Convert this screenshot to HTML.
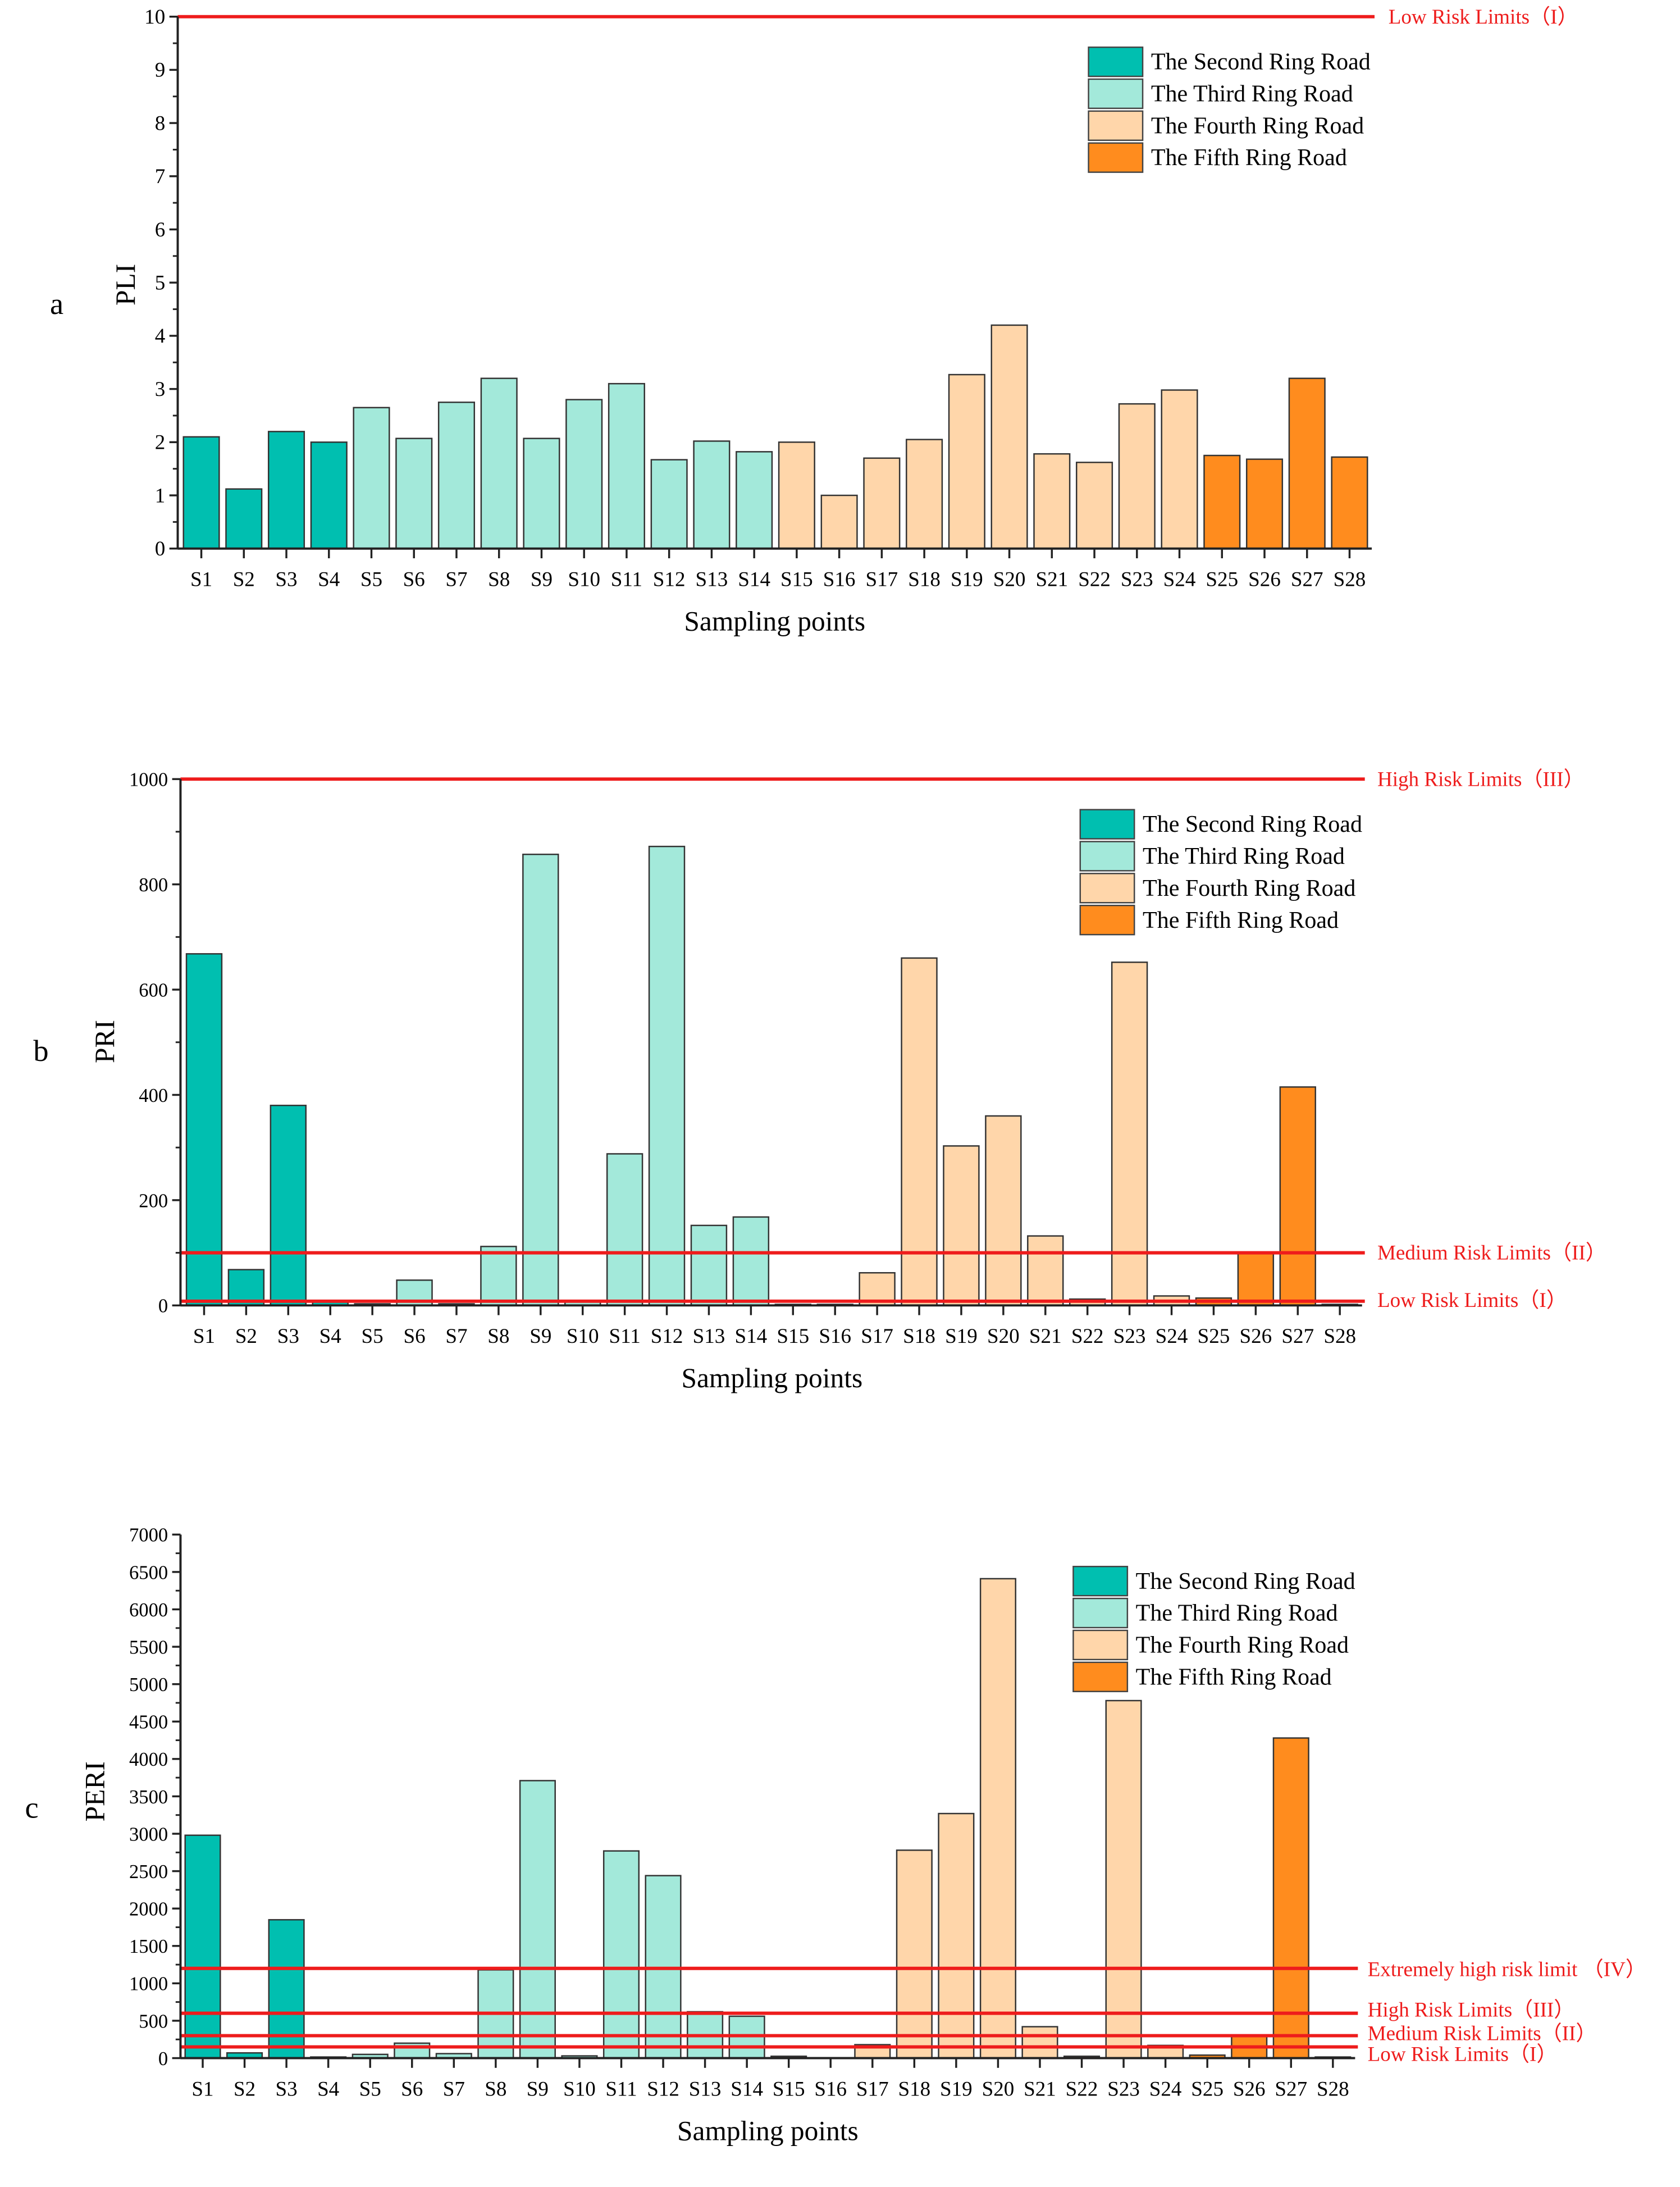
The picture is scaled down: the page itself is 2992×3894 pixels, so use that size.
<!DOCTYPE html>
<html><head><meta charset="utf-8"><style>html,body{margin:0;padding:0;background:#fff}svg{display:block}</style></head>
<body>
<svg id="root" width="2992" height="3894" viewBox="0 0 1210 1574.8" preserveAspectRatio="none" xmlns="http://www.w3.org/2000/svg" font-family="'Liberation Serif', serif"></svg>
<script>
const categories = ["S1","S2","S3","S4","S5","S6","S7","S8","S9","S10","S11","S12","S13","S14","S15","S16","S17","S18","S19","S20","S21","S22","S23","S24","S25","S26","S27","S28"];
const groups = [0,0,0,0,1,1,1,1,1,1,1,1,1,1,2,2,2,2,2,2,2,2,2,2,3,3,3,3];
const legendLabels = ["The Second Ring Road","The Third Ring Road","The Fourth Ring Road","The Fifth Ring Road"];
const pliValues = [2.1,1.12,2.2,2.0,2.65,2.07,2.75,3.2,2.07,2.8,3.1,1.67,2.02,1.82,2.0,1.0,1.7,2.05,3.27,4.2,1.78,1.62,2.72,2.98,1.75,1.68,3.2,1.72];
const priValues = [668,68,380,8,3,48,3,112,857,8,288,872,152,168,2,2,62,660,303,360,132,12,652,18,14,100,415,2];
const periValues = [2980,70,1850,15,50,200,60,1180,3710,30,2770,2440,620,560,25,0,180,2780,3270,6410,420,25,4780,170,40,300,4280,15];
const pliTicks = [0,1,2,3,4,5,6,7,8,9,10];
const priTicks = [0,200,400,600,800,1000];
const periTicks = [0,500,1000,1500,2000,2500,3000,3500,4000,4500,5000,5500,6000,6500,7000];
const pliLimits = [10];
const pliLimitLabels = ["Low Risk Limits（I）"];
const priLimits = [1000,100,8];
const priLimitLabels = ["High Risk Limits（III）","Medium Risk Limits（II）","Low Risk Limits（I）"];
const periLimits = [1200,600,300,150];
const periLimitLabels = ["Extremely high risk limit （IV）","High Risk Limits（III）","Medium Risk Limits（II）","Low Risk Limits（I）"];

const colors = ["#00bfb0","#a3e9da","#ffd6aa","#ff8c1e"];
const NS="http://www.w3.org/2000/svg";
const root=document.getElementById('root');
function el(tag,attrs,parent,text){const e=document.createElementNS(NS,tag);for(const k in attrs)e.setAttribute(k,attrs[k]);if(text!==undefined)e.textContent=text;(parent||root).appendChild(e);return e;}

function chart(cfg){
  const g=el('g',{});
  
  
  const ymax=cfg.ticks[cfg.ticks.length-1];
  const y=v=>cfg.y0-(v/ymax)*(cfg.y0-cfg.yTop);
  const step=(cfg.xLast-cfg.xFirst)/(categories.length-1);
  const x=i=>cfg.xFirst+i*step;
  const bw=step*0.84;
  // bars
  cfg.values.forEach((v,i)=>{
    const r=el('rect',{x:x(i)-bw/2,y:y(v),width:bw,height:Math.max(0,cfg.y0-y(v)),fill:colors[groups[i]],stroke:'#333','stroke-width':1},g);
    
    
  });
  // limit lines
  cfg.limits.forEach((v,i)=>{
    const l=el('line',{x1:cfg.axisX,x2:cfg.lineEnd,y1:y(v),y2:y(v),stroke:'#ee1c1c','stroke-width':2.4},g);
    
    
    const ly=cfg.labelY?cfg.labelY[i]:y(v);
    const t=el('text',{x:cfg.labelX,y:ly+5,fill:'#ee1c1c','font-size':15},g,cfg.limitLabels[i]);
    
    
  });
  // axes
  const ax=el('line',{x1:cfg.axisX,x2:cfg.axisX,y1:cfg.yTop,y2:cfg.y0,stroke:'#222','stroke-width':1.6},g);
  
  
  const bx=el('line',{x1:cfg.axisX,x2:cfg.lineEnd-2,y1:cfg.y0,y2:cfg.y0,stroke:'#222','stroke-width':1.6},g);
  
  
  cfg.ticks.forEach((v,i)=>{
    el('line',{x1:cfg.axisX-6,x2:cfg.axisX,y1:y(v),y2:y(v),stroke:'#222','stroke-width':1.4},g);
    if(i<cfg.ticks.length-1){const m=(v+cfg.ticks[i+1])/2;el('line',{x1:cfg.axisX-3.5,x2:cfg.axisX,y1:y(m),y2:y(m),stroke:'#222','stroke-width':1.2},g);}
    const t=el('text',{x:cfg.axisX-9,y:y(v)+5,'text-anchor':'end','font-size':cfg.tickFont},g,String(v));
    
    
  });
  categories.forEach((c,i)=>{
    el('line',{x1:x(i),x2:x(i),y1:cfg.y0,y2:cfg.y0+7,stroke:'#222','stroke-width':1.4},g);
    const t=el('text',{x:x(i),y:cfg.y0+27,'text-anchor':'middle','font-size':15},g,c);
    
    
  });
  const xt=el('text',{x:cfg.xTitleX,y:cfg.y0+59,'text-anchor':'middle','font-size':20},g,'Sampling points');
  
  
  const yt=el('text',{x:0,y:0,'text-anchor':'middle','font-size':20,transform:`translate(${cfg.yTitleX},${cfg.yTitleY}) rotate(-90)`},g,cfg.yTitle);
  
  
  const pl=el('text',{x:cfg.letterX,y:cfg.letterY,'font-size':22},g,cfg.letter);
  
  
  // legend
  const lg=el('g',{},g);
  
  
  legendLabels.forEach((lab,i)=>{
    const yy=cfg.legY+i*23;
    el('rect',{x:cfg.legX,y:yy,width:39,height:21,fill:colors[i],stroke:'#444','stroke-width':1},lg);
    const t=el('text',{x:cfg.legX+45,y:yy+16,'font-size':17},lg,lab);
    
    
  });
}

chart({name:'pli-chart',values:pliValues,ticks:pliTicks,limits:pliLimits,limitLabels:pliLimitLabels,
  y0:395,yTop:12,axisX:128,xFirst:145,xLast:972,lineEnd:990,labelX:1000,tickFont:15,
  xTitleX:558,yTitle:'PLI',yTitleX:97,yTitleY:205,letter:'a',letterX:36,letterY:226,legX:784,legY:34});
chart({name:'pri-chart',values:priValues,ticks:priTicks,limits:priLimits,limitLabels:priLimitLabels,labelY:[561,902,936],
  y0:940,yTop:561,axisX:130,xFirst:147,xLast:965,lineEnd:983,labelX:992,tickFont:14,
  xTitleX:556,yTitle:'PRI',yTitleX:82,yTitleY:750,letter:'b',letterX:24,letterY:764,legX:778,legY:583});
chart({name:'peri-chart',values:periValues,ticks:periTicks,limits:periLimits,limitLabels:periLimitLabels,labelY:[1418,1447,1464,1479],
  y0:1482,yTop:1105,axisX:130,xFirst:146,xLast:960,lineEnd:978,labelX:985,tickFont:14,
  xTitleX:553,yTitle:'PERI',yTitleX:75,yTitleY:1290,letter:'c',letterX:18,letterY:1309,legX:773,legY:1128});
</script>
</body></html>
